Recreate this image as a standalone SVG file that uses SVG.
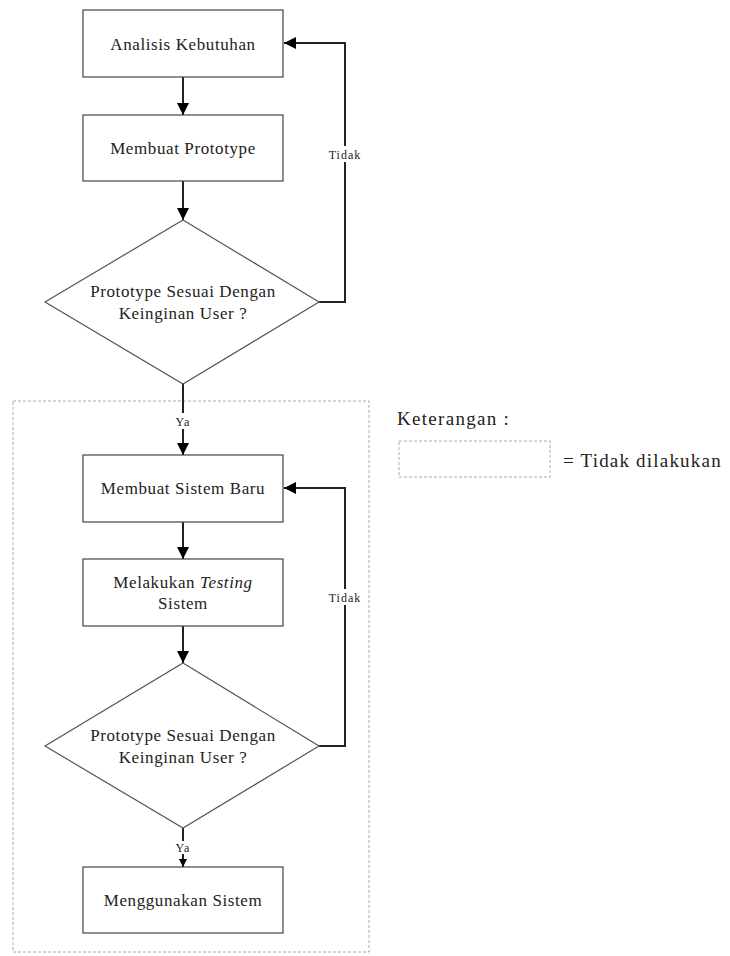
<svg xmlns="http://www.w3.org/2000/svg" width="730" height="956" viewBox="0 0 730 956">
<defs>
<marker id="ah" markerWidth="12" markerHeight="12" refX="12" refY="6" orient="auto" markerUnits="userSpaceOnUse">
<path d="M0,0 L12,6 L0,12 Z" fill="#000"/>
</marker>
<marker id="ahs" markerWidth="8" markerHeight="8" refX="8" refY="4" orient="auto" markerUnits="userSpaceOnUse">
<path d="M0,0 L8,4 L0,8 Z" fill="#000"/>
</marker>
<style>
.box{fill:#fff;stroke:#444;stroke-width:1.2}
.dia{fill:#fff;stroke:#555;stroke-width:1.2}
.t{font-family:"Liberation Serif","Times New Roman","DejaVu Serif",serif;font-size:17px;letter-spacing:0.6px;fill:#222;text-anchor:middle}
.lbl{font-family:"Liberation Serif","Times New Roman","DejaVu Serif",serif;font-size:12px;letter-spacing:1px;fill:#222;text-anchor:middle}
.lg{font-family:"Liberation Serif","Times New Roman","DejaVu Serif",serif;font-size:19px;fill:#222}
.c{fill:none;stroke:#222;stroke-width:2}
.dash{fill:none;stroke:#aaa;stroke-width:1;stroke-dasharray:3,2}
</style>
</defs>
<rect width="730" height="956" fill="#fff"/>
<rect id="region" class="dash" x="13" y="401" width="356" height="551"/>
<g id="connectors">
<path class="c" d="M183,77 V115" marker-end="url(#ah)"/>
<path class="c" d="M183,181 V220" marker-end="url(#ah)"/>
<path class="c" d="M319,302 H345 V43 H284" marker-end="url(#ah)"/>
<path class="c" d="M183,384 V455" marker-end="url(#ah)"/>
<path class="c" d="M183,522 V559" marker-end="url(#ah)"/>
<path class="c" d="M183,626 V663" marker-end="url(#ah)"/>
<path class="c" d="M319,746 H345 V488 H284" marker-end="url(#ah)"/>
<path class="c" d="M183,828 V867" marker-end="url(#ahs)"/>
<rect x="328" y="146" width="34" height="16" fill="#fff"/>
<text class="lbl" x="345" y="159">Tidak</text>
<rect x="328" y="589" width="34" height="16" fill="#fff"/>
<text class="lbl" x="345" y="602">Tidak</text>
<rect x="172" y="413" width="22" height="16" fill="#fff"/>
<text class="lbl" x="183" y="426">Ya</text>
<rect x="172" y="841" width="22" height="13" fill="#fff"/>
<text class="lbl" x="183" y="852">Ya</text>
</g>
<g id="n1"><rect class="box" x="83" y="10" width="200" height="67"/><text class="t" x="183" y="50">Analisis Kebutuhan</text></g>
<g id="n2"><rect class="box" x="83" y="115" width="200" height="66"/><text class="t" x="183" y="154">Membuat Prototype</text></g>
<g id="n3"><polygon class="dia" points="183,220 319,302 183,384 45,302"/><text class="t" x="183" y="297">Prototype Sesuai Dengan</text><text class="t" x="183" y="319">Keinginan User ?</text></g>
<g id="n4"><rect class="box" x="83" y="455" width="200" height="67"/><text class="t" x="183" y="494">Membuat Sistem Baru</text></g>
<g id="n5"><rect class="box" x="83" y="559" width="200" height="67"/><text class="t" x="183" y="588">Melakukan <tspan font-style="italic">Testing</tspan></text><text class="t" x="183" y="609">Sistem</text></g>
<g id="n6"><polygon class="dia" points="183,663 319,746 183,828 45,746"/><text class="t" x="183" y="741">Prototype Sesuai Dengan</text><text class="t" x="183" y="763">Keinginan User ?</text></g>
<g id="n7"><rect class="box" x="83" y="867" width="200" height="66"/><text class="t" x="183" y="906">Menggunakan Sistem</text></g>
<g id="legend">
<text class="lg" x="397" y="425" letter-spacing="1.3">Keterangan :</text>
<rect class="dash" x="399" y="441" width="151" height="36"/>
<text class="lg" x="563" y="467" letter-spacing="1.2">= Tidak dilakukan</text>
</g>
</svg>
